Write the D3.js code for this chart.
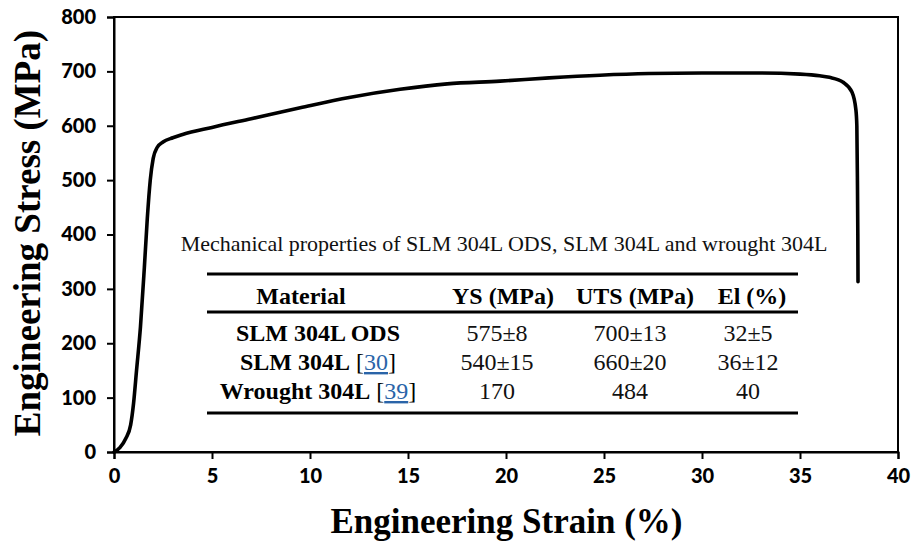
<!DOCTYPE html>
<html>
<head>
<meta charset="utf-8">
<script src="https://cdn.jsdelivr.net/npm/d3@7"></script>
<style>
  html, body { margin: 0; padding: 0; background: #fff; }
  svg { display: block; }
</style>
</head>
<body>
<svg id="chart" width="912" height="543"></svg>
<script>
// Engineering stress–strain curve, SLM 304L ODS
const strain = [0, 0.3, 0.6, 0.85, 1.0, 1.15, 1.35, 1.55, 1.7, 1.85, 2.0, 2.2, 2.5, 3.0, 3.5, 5, 7, 9.5, 12, 14.6, 17, 19.7, 22.2, 24.8, 27.3, 30, 33, 35, 36, 36.5, 37.2, 37.65, 37.85, 37.9, 37.93, 37.95, 37.96];
const stress = [0, 8, 25, 50, 90, 150, 230, 340, 430, 500, 540, 560, 570, 578, 584, 597, 613, 633, 652, 667, 677, 682, 688, 693, 696, 697, 697, 695, 692, 689, 680, 662, 630, 600, 500, 400, 313];

const xTicks = [0, 5, 10, 15, 20, 25, 30, 35, 40];
const yTicks = [0, 100, 200, 300, 400, 500, 600, 700, 800];

// Inset table of mechanical properties
const tableTitle = "Mechanical properties of SLM 304L ODS, SLM 304L and wrought 304L";
const tableHeaders = ["Material", "YS (MPa)", "UTS (MPa)", "El (%)"];
const materials = ["SLM 304L ODS", "SLM 304L", "Wrought 304L"];
const materialRefs = [null, "30", "39"];
const ysValues = ["575±8", "540±15", "170"];
const utsValues = ["700±13", "660±20", "484"];
const elValues = ["32±5", "36±12", "40"];

const svg = d3.select("#chart");
const W = 912, H = 543;
const margin = { left: 114, top: 17, right: 14, bottom: 91 };
const pw = W - margin.left - margin.right;
const ph = H - margin.top - margin.bottom;

const x = d3.scaleLinear().domain([0, 40]).range([margin.left, margin.left + pw]);
const y = d3.scaleLinear().domain([0, 800]).range([margin.top + ph, margin.top]);

svg.append("rect").attr("width", W).attr("height", H).attr("fill", "#fff");

// plot frame
svg.append("rect")
  .attr("x", margin.left).attr("y", margin.top)
  .attr("width", pw).attr("height", ph)
  .attr("fill", "none").attr("stroke", "#000").attr("stroke-width", 2);

const tickFont = "Lato, 'Open Sans', sans-serif";

const xAxis = svg.append("g")
  .attr("transform", `translate(0,${margin.top + ph})`)
  .call(d3.axisBottom(x).tickValues(xTicks).tickSize(7).tickPadding(10).tickFormat(d3.format("d")));
const yAxis = svg.append("g")
  .attr("transform", `translate(${margin.left},0)`)
  .call(d3.axisLeft(y).tickValues(yTicks).tickSize(7).tickPadding(11).tickFormat(d3.format("d")));

[xAxis, yAxis].forEach(g => {
  g.select(".domain").attr("stroke", "#000").attr("stroke-width", 2);
  g.selectAll(".tick line").attr("stroke", "#000").attr("stroke-width", 2);
  g.selectAll(".tick text")
    .attr("fill", "#000")
    .style("font-family", tickFont)
    .style("font-weight", "900")
    .style("font-size", "20px");
});

// stress-strain curve
const pts = strain.map((s, i) => [s, stress[i]]);
svg.append("path")
  .datum(pts)
  .attr("fill", "none")
  .attr("stroke", "#000")
  .attr("stroke-width", 3.6)
  .attr("stroke-linejoin", "round")
  .attr("stroke-linecap", "round")
  .attr("d", d3.line().x(d => x(d[0])).y(d => y(d[1])).curve(d3.curveMonotoneX));

// axis titles
const serif = "'Liberation Serif', 'Times New Roman', serif";
svg.append("text")
  .attr("x", (330 + 683) / 2).attr("y", 533)
  .attr("text-anchor", "middle")
  .style("font-family", serif).style("font-weight", "bold").style("font-size", "35px")
  .text("Engineering Strain (%)");

svg.append("text")
  .attr("transform", `translate(40,${(18 + 448) / 2}) rotate(-90)`)
  .attr("text-anchor", "middle")
  .style("font-family", serif).style("font-weight", "bold").style("font-size", "37px")
  .text("Engineering Stress (MPa)");

// ---- inset table ----
const tbl = svg.append("g");
tbl.append("text")
  .attr("x", 504).attr("y", 251)
  .attr("text-anchor", "middle")
  .style("font-family", serif).style("font-size", "22px")
  .attr("fill", "#111")
  .text(tableTitle);

const ruleX0 = 207, ruleX1 = 798;
[274, 312, 413].forEach(ry => {
  tbl.append("line")
    .attr("x1", ruleX0).attr("x2", ruleX1)
    .attr("y1", ry).attr("y2", ry)
    .attr("stroke", "#000").attr("stroke-width", 3);
});

const headerX = [301, 503, 635, 752];
tableHeaders.forEach((h, i) => {
  tbl.append("text")
    .attr("x", headerX[i]).attr("y", 304)
    .attr("text-anchor", "middle")
    .style("font-family", serif).style("font-weight", "bold").style("font-size", "24px")
    .text(h);
});

const rowY = [341, 370, 399];
const colX = [318, 497, 630, 748];
materials.forEach((m, i) => {
  const t = tbl.append("text")
    .attr("x", colX[0]).attr("y", rowY[i])
    .attr("text-anchor", "middle")
    .style("font-family", serif).style("font-size", "24px");
  t.append("tspan").style("font-weight", "bold").text(m);
  if (materialRefs[i]) {
    t.append("tspan").text(" [");
    t.append("tspan").attr("fill", "#2a64a8").style("text-decoration", "underline").text(materialRefs[i]);
    t.append("tspan").text("]");
  }
});

[ysValues, utsValues, elValues].forEach((col, c) => {
  col.forEach((v, i) => {
    tbl.append("text")
      .attr("x", colX[c + 1]).attr("y", rowY[i])
      .attr("text-anchor", "middle")
      .style("font-family", serif).style("font-size", "24px")
      .attr("fill", "#111")
      .text(v);
  });
});
</script>
</body>
</html>
